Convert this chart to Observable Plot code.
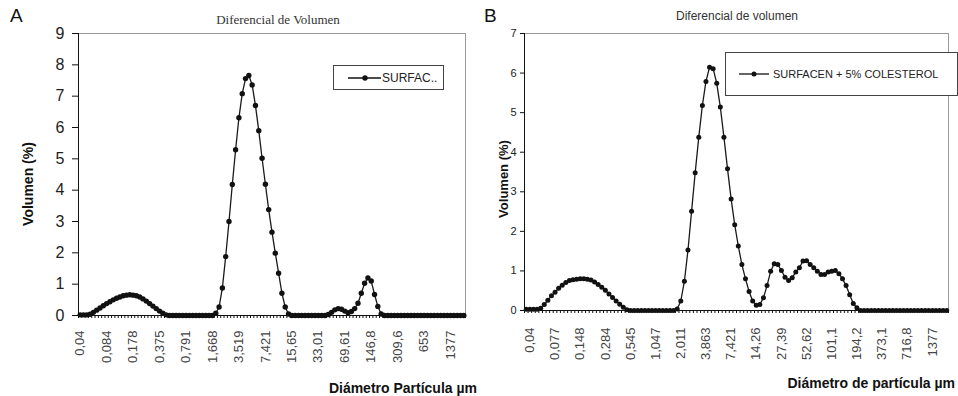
<!DOCTYPE html>
<html><head><meta charset="utf-8">
<script src="https://cdn.jsdelivr.net/npm/d3@7"></script>
<script src="https://cdn.jsdelivr.net/npm/@observablehq/plot@0.6"></script>
<style>
body{margin:0;background:#fff;}
#wrap{position:relative;width:958px;height:396px;overflow:hidden;font-family:"Liberation Sans",Arial,sans-serif;color:#111;background:#fff;}
.abs{position:absolute;white-space:nowrap;line-height:1;}
.plot{position:absolute;top:0;}
.legend{position:absolute;background:#fff;border:1px solid #444;box-sizing:border-box;display:flex;align-items:center;}
.legend svg{flex:none;}
</style></head><body>
<div id="wrap">
  <div id="pa" class="plot" style="left:0"></div>
  <div id="pb" class="plot" style="left:480px"></div>
  <div class="abs" style="left:10px;top:6px;font-size:19px;">A</div>
  <div class="abs" style="left:484px;top:6px;font-size:19px;">B</div>
  <div class="abs" style="left:278px;top:19px;transform:translate(-50%,-50%);font-family:'Liberation Serif',serif;font-size:13px;color:#333;">Diferencial de Volumen</div>
  <div class="abs" style="left:737px;top:16px;transform:translate(-50%,-50%);font-size:12px;color:#333;">Diferencial de volumen</div>
  <div class="abs" style="left:28px;top:184px;transform:translate(-50%,-50%) rotate(-90deg);font-size:14px;font-weight:bold;">Volumen (%)</div>
  <div class="abs" style="left:503px;top:179px;transform:translate(-50%,-50%) rotate(-90deg);font-size:13px;font-weight:bold;">Volumen (%)</div>
  <div class="abs" style="right:481px;top:388px;transform:translateY(-50%);font-size:14px;font-weight:bold;">Diámetro Partícula µm</div>
  <div class="abs" style="right:3px;top:383px;transform:translateY(-50%);font-size:14px;font-weight:bold;">Diámetro de partícula µm</div>
  <div class="legend" style="left:333px;top:65px;width:111px;height:25px;">
    <svg width="48" height="12"><line x1="14" y1="6" x2="47" y2="6" stroke="#111" stroke-width="1.3"/><circle cx="31" cy="6" r="2.7" fill="#111"/></svg>
    <span style="font-size:12px;color:#222;">SURFAC..</span>
  </div>
  <div class="legend" style="left:725px;top:52px;width:233px;height:44px;">
    <svg width="47" height="12"><line x1="13" y1="6" x2="43" y2="6" stroke="#111" stroke-width="1.3"/><circle cx="28" cy="6" r="2.5" fill="#111"/></svg>
    <span style="font-size:11px;color:#222;">SURFACEN + 5% COLESTEROL</span>
  </div>
</div>
<script>
// Panel A: particle-size channels (every 8th channel labelled)
const labelsA = ["0,04","0,084","0,178","0,375","0,791","1,668","3,519","7,421","15,65","33,01","69,61","146,8","309,6","653","1377"];
const labelStepA = 8;
const valuesA = [
  0.02,0.02,0.02,0.04,0.10,0.17,0.24,0.31,0.38,0.44,0.50,0.55,0.59,0.63,0.65,0.66,0.65,0.63,0.59,0.53,0.46,0.38,0.30,0.22,0.14,0.07,0.02,
  0,0,0,0,0,0,0,0,0,0,0,0,0,0,
  0.07,0.27,0.88,1.88,3.00,4.18,5.29,6.31,7.08,7.56,7.66,7.36,6.70,5.90,5.02,4.19,3.38,2.66,1.99,1.35,0.71,0.27,0.05,
  0,0,0,0,0,0,0,0,0,0,0,
  0.03,0.10,0.18,0.22,0.20,0.14,0.09,0.13,0.22,0.39,0.71,1.03,1.20,1.10,0.67,0.29,0.05,
  0,0,0,0,0,0,0,0,0,0,0,0,0,0,0,0,0,0,0,0,0,0,0,0,0
];
const yTicksA = [0,1,2,3,4,5,6,7,8,9];

// Panel B: one leading empty category, then channels (every 7th labelled)
const labelsB = ["0,04","0,077","0,148","0,284","0,545","1,047","2,011","3,863","7,421","14,26","27,39","52,62","101,1","194,2","373,1","716,8","1377"];
const labelStepB = 7;
const labelStartB = 1;
const valuesB = [
  0.03,0.03,0.03,0.03,0.06,0.15,0.26,0.37,0.46,0.56,0.64,0.71,0.76,0.78,0.79,0.80,0.80,0.79,0.77,0.72,0.66,0.59,0.51,0.42,0.33,0.24,0.16,0.08,0.02,
  0,0,0,0,0,0,0,0,0,0,0,0,0,
  0.04,0.24,0.74,1.53,2.51,3.48,4.38,5.18,5.79,6.15,6.11,5.74,5.14,4.38,3.58,2.82,2.17,1.63,1.16,0.80,0.48,0.24,0.13,0.15,0.32,0.63,0.99,1.18,1.16,1.01,0.84,0.76,0.83,0.97,1.08,1.25,1.26,1.16,1.08,0.99,0.91,0.91,0.97,0.99,1.01,0.93,0.80,0.63,0.40,0.18,0.07,
  0,0,0,0,0,0,0,0,0,0,0,0,0,0,0,0,0,0,0,0,0,0,0,0,0
];
const yTicksB = [0,1,2,3,4,5,6,7];

function panel({values, labels, step, start, yTicks, width, ml, mr, mt, mb, yFont, yTickSize, yPad, xFont, xPad, r}) {
  const n = values.length;
  const data = values.map((v, i) => ({i, v}));
  const domain = [-0.5, n - 0.5];
  const bounds = d3.range(n + 1).map(k => k - 0.5);
  const labIdx = labels.map((_, j) => start + j * step);
  const labMap = new Map(labIdx.map((k, j) => [k, labels[j]]));
  return Plot.plot({
    width, height: 396, marginLeft: ml, marginRight: mr, marginTop: mt, marginBottom: mb,
    style: {fontFamily: "'Liberation Sans', Arial, sans-serif", background: "transparent", color: "#111", overflow: "visible"},
    x: {type: "linear", domain},
    y: {domain: [yTicks[0], yTicks[yTicks.length - 1]]},
    marks: [
      Plot.frame({stroke: "#9a9a9a"}),
      Plot.axisY({ticks: yTicks, tickSize: yTickSize, tickPadding: yPad, fontSize: yFont, label: null, tickFormat: d => String(d), fill: "#222"}),
      Plot.axisX({ticks: bounds, tickSize: 3, fill: "none", label: null}),
      Plot.axisX({ticks: labIdx, tickSize: 0, tickPadding: xPad, tickRotate: -90, fontSize: xFont, fill: "#444", label: null, tickFormat: k => labMap.get(k)}),
      Plot.ruleY([yTicks[0]], {stroke: "#111", strokeWidth: 1.2}),
      Plot.ruleX([domain[0]], {stroke: "#111"}),
      Plot.line(data, {x: "i", y: "v", stroke: "#1a1a1a", strokeWidth: 1.3}),
      Plot.dot(data, {x: "i", y: "v", r, fill: "#111", stroke: "none"})
    ]
  });
}

document.getElementById("pa").append(panel({
  values: valuesA, labels: labelsA, step: labelStepA, start: 0, yTicks: yTicksA,
  width: 480, ml: 78, mr: 15, mt: 33, mb: 81, yFont: 16, yTickSize: 6, yPad: 8, xFont: 13, xPad: 15, r: 2.7
}));
document.getElementById("pb").append(panel({
  values: valuesB, labels: labelsB, step: labelStepB, start: labelStartB, yTicks: yTicksB,
  width: 478, ml: 44, mr: 10, mt: 33, mb: 86, yFont: 11, yTickSize: 4, yPad: 4, xFont: 13, xPad: 17, r: 2.5
}));
</script>
</body></html>
